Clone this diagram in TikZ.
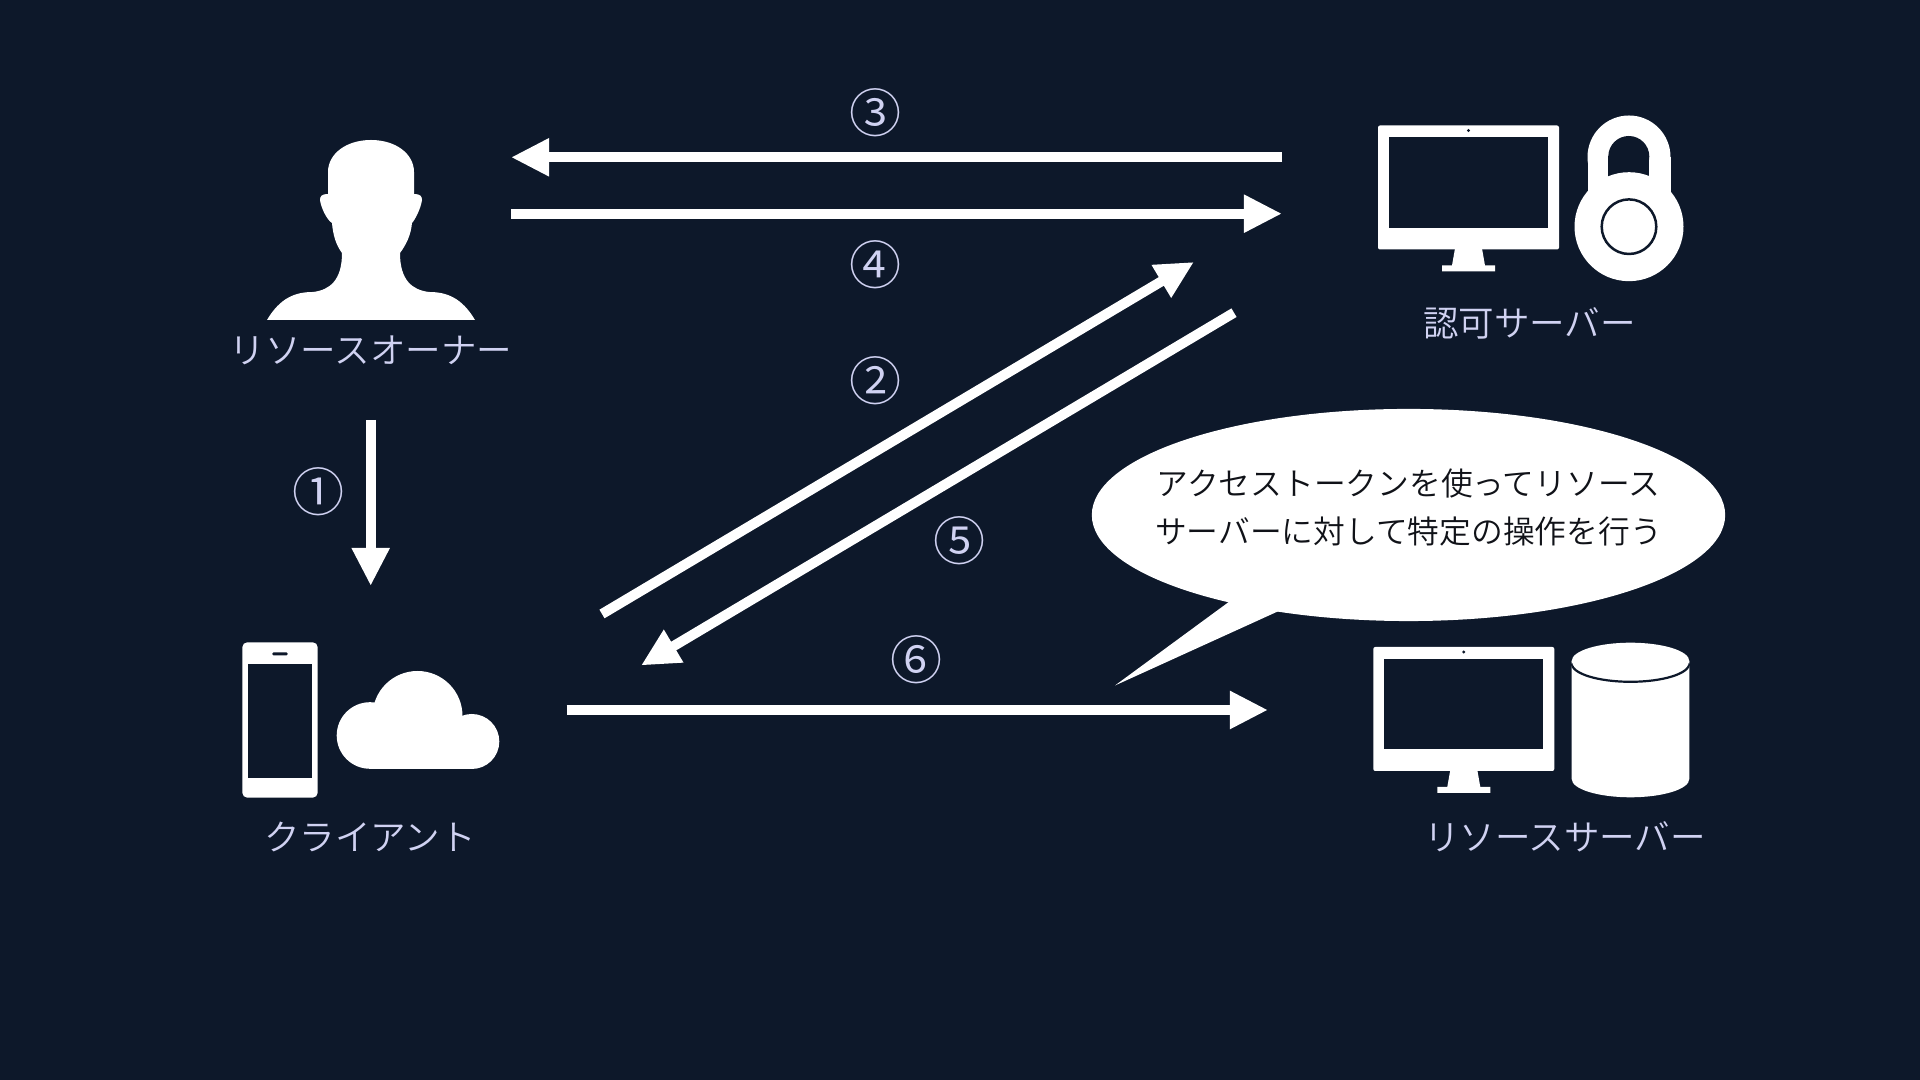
\documentclass[tikz,border=0pt]{standalone}
\usepackage{xcolor}
\usepackage{fontspec}
\setmainfont{Noto Sans CJK JP DemiLight}
\usetikzlibrary{arrows.meta, shapes.geometric}
\definecolor{pagebg}{RGB}{13,24,42}
\definecolor{labelcol}{RGB}{208,210,242}
\definecolor{bubbleink}{RGB}{16,18,24}

\begin{document}
\begin{tikzpicture}[
    x=0.01cm, y=-0.01cm,
    icon/.style={fill=white, draw=none},
    hole/.style={fill=pagebg, draw=none},
    label/.style={text=labelcol, font=\fontsize{10.1}{12}\selectfont, inner sep=0pt},
    num/.style={text=labelcol, font=\fontsize{14.8}{16}\selectfont, inner sep=0pt},
    flow/.style={-{Triangle[length=0.38cm, width=0.355cm]}, draw=white, line width=0.1cm},
    monitor/.pic={
        \fill[icon, rounded corners=0.02cm] (0,0) rectangle (181,124);
        \fill[hole] (11,12) rectangle (170,102.5);
        \fill[hole] (90.5,5) circle[radius=1.6];
        \fill[icon] (77,123) -- (104,123) -- (107,140) -- (117,140) -- (117,146)
            -- (64,146) -- (64,140) -- (74,140) -- cycle;
    }
]

% Background
\fill[pagebg] (0,0) rectangle (1920,1080);

% 1. Resource owner
\fill[icon] (267,320) .. controls (280,298) and (295,292) .. (313,292)
    .. controls (330,290) and (342,280) .. (342,253)
    .. controls (336,245) and (333,235) .. (332,223)
    .. controls (327,220) and (321,208) .. (320,200)
    .. controls (320,196) and (322,194) .. (328,194)
    -- (328,172) .. controls (328,154) and (346,140) .. (371,140)
    .. controls (396,140) and (414,154) .. (414,172)
    -- (414,194) .. controls (420,194) and (422,196) .. (422,200)
    .. controls (421,208) and (415,220) .. (412,223)
    .. controls (411,235) and (406,245) .. (400,253)
    .. controls (400,280) and (412,290) .. (429,292)
    .. controls (447,292) and (462,298) .. (475,320) -- cycle;
\node[label] (ownerlabel) at (371,350) {リソースオーナー};

% 2. Authorization server
\pic at (1378,125.5) {monitor};
\fill[icon] (1629,157) circle[radius=41.5];
\fill[icon] (1587.5,157) rectangle (1670.5,195);
\fill[hole] (1628.8,156.5) circle[radius=20.5];
\fill[hole] (1608.3,156.5) rectangle (1649.3,180);
\fill[icon] (1629,226.7) circle[radius=54.5];
\draw[draw=pagebg, line width=0.025cm] (1629,226.7) circle[radius=27.3];
\node[label] (authlabel) at (1529.5,323) {認可サーバー};

% 3. Client
\fill[icon, rounded corners=0.05cm] (242.3,642.3) rectangle (317.7,797.7);
\fill[hole] (247.7,663.7) rectangle (312.3,778.3);
\fill[hole, rounded corners=0.012cm] (272.3,652.3) rectangle (287.7,655.5);
\fill[icon] (370,735.5) circle[radius=33.3];
\fill[icon] (417.5,716) circle[radius=45];
\fill[icon] (471.8,741.5) circle[radius=27.5];
\fill[icon] (370,725) rectangle (472,769);
\node[label] (clientlabel) at (370,837) {クライアント};

% 4. Resource server
\pic at (1373.3,647) {monitor};
\fill[icon] (1571.7,661) -- (1571.7,779) arc[start angle=180, end angle=0, x radius=58.8, y radius=18.3]
    -- (1689.3,661) -- cycle;
\draw[draw=pagebg, line width=0.022cm] (1689.3,663.5) arc[start angle=0, end angle=180, x radius=58.8, y radius=18.3];
\fill[icon] (1630.5,661) ellipse[x radius=58.8, y radius=18.3];
\node[label] (resourcelabel) at (1565,837) {リソースサーバー};

% 5. Speech bubble
\node[ellipse, icon, minimum width=6.33cm, minimum height=2.12cm, inner sep=0pt] (bubble) at (1408.5,515) {};
\coordinate (tailtip) at (1115,685.5);
\fill[icon] (1231.5,600) -- (tailtip) -- (1281,610) -- cycle;
\node[text=bubbleink, font=\fontsize{9.03}{13.66}\selectfont, align=center, inner sep=0pt] (bubbletext) at (1408.5,507.5)
    {アクセストークンを使ってリソース\\サーバーに対して特定の操作を行う};

% 6. Arrow ends
\coordinate (ownerout) at (370.7,420);
\coordinate (clientin) at (370.7,586);
\coordinate (clientup) at (602,614);
\coordinate (authin) at (1194,262);
\coordinate (authtop) at (1282,157.3);
\coordinate (ownerin) at (511,157.3);
\coordinate (ownerup) at (511,213.7);
\coordinate (authback) at (1282,213.7);
\coordinate (authdown) at (1234,312.7);
\coordinate (clientback) at (641,665.5);
\coordinate (clientout) at (566.5,710);
\coordinate (resourcein) at (1268,710);

% 7. Flows
\draw[flow] (ownerout) -- (clientin);
\draw[flow] (clientup) -- (authin);
\draw[flow] (authtop) -- (ownerin);
\draw[flow] (ownerup) -- (authback);
\draw[flow] (authdown) -- (clientback);
\draw[flow] (clientout) -- (resourcein);

% 8. Step numbers
\node[num] (num1) at (318.5,491.5) {①};
\node[num] (num2) at (875.5,380.5) {②};
\node[num] (num3) at (875.5,112.5) {③};
\node[num] (num4) at (875.5,264.5) {④};
\node[num] (num5) at (960,540.5) {⑤};
\node[num] (num6) at (917,659.5) {⑥};

\end{tikzpicture}
\end{document}
